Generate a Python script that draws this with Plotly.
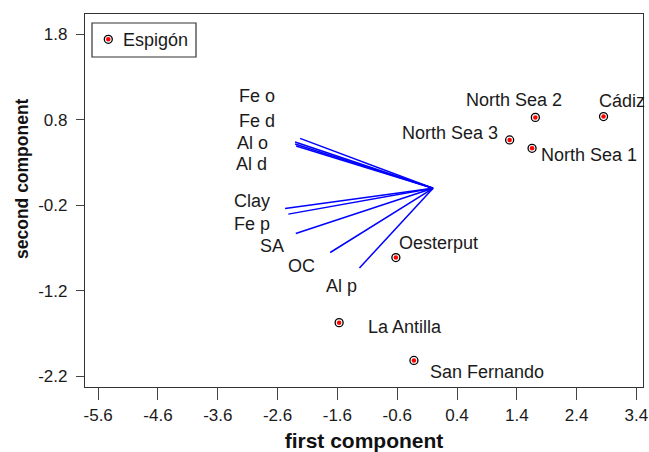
import plotly.graph_objects as go

# ---- data ----
sites = ["Cádiz", "North Sea 2", "North Sea 3", "North Sea 1", "Oesterput", "La Antilla", "San Fernando"]
site_x = [2.85, 1.71, 1.28, 1.655, -0.622, -1.571, -0.32]
site_y = [0.84, 0.83, 0.566, 0.468, -0.81, -1.572, -2.014]

variables = ["Fe o", "Fe d", "Al o", "Al d", "Clay", "Fe p", "SA", "OC", "Al p"]
load_x = [-2.224, -2.307, -2.307, -2.29, -2.475, -2.42, -2.296, -1.72, -1.231]
load_y = [0.585, 0.542, 0.519, 0.495, -0.235, -0.302, -0.528, -0.751, -0.932]

x_ticks = [-5.6, -4.6, -3.6, -2.6, -1.6, -0.6, 0.4, 1.4, 2.4, 3.4]
x_tick_text = ["-5.6", "-4.6", "-3.6", "-2.6", "-1.6", "-0.6", "0.4", "1.4", "2.4", "3.4"]
y_ticks = [1.8, 0.8, -0.2, -1.2, -2.2]
y_tick_text = ["1.8", "0.8", "-0.2", "-1.2", "-2.2"]

legend_name = "Espigón"
x_title = "first component"
y_title = "second component"

# ---- label styling (pixel offsets from the data point) ----
var_anchor = ["right"] * 9
var_dx = [-23, -18, -25, -27, -13, -16, -10, -13, 0]
var_dy = [42, 21, 1, -18, 7, -10, -13, -13, -18]

site_anchor = ["left", "center", "right", "left", "left", "left", "left"]
site_dx = [-7, -21, -10, 7, 1, 27, 14]
site_dy = [16, 17, 7, -7, 15, -4, -12]

FONT = "Liberation Sans, Arial, Helvetica, sans-serif"

W, H = 649, 452
ML, MR, MT, MB = 85, 6, 14, 65
PW, PH = W - ML - MR, H - MT - MB


def px(xp):
    return (xp - ML) / PW


def py(yp):
    return (H - MB - yp) / PH


fig = go.Figure()

# loading vectors
lx, ly = [], []
for vx, vy in zip(load_x, load_y):
    lx += [0, vx, None]
    ly += [0, vy, None]
fig.add_trace(go.Scatter(x=lx, y=ly, mode="lines",
                         line=dict(color="#0000ff", width=1.5),
                         showlegend=False, hoverinfo="skip"))

# site markers: black ring, white gap, red centre
fig.add_trace(go.Scatter(x=site_x, y=site_y, mode="markers",
                         marker=dict(size=8, color="white", line=dict(color="black", width=1.3)),
                         showlegend=False, name=legend_name))
fig.add_trace(go.Scatter(x=site_x, y=site_y, mode="markers",
                         marker=dict(size=4.5, color="#ff0000", line=dict(width=0)),
                         showlegend=False, hoverinfo="skip"))

annotations = []
for name, vx, vy, anc, dx, dy in zip(variables, load_x, load_y, var_anchor, var_dx, var_dy):
    annotations.append(dict(x=vx, y=vy, xref="x", yref="y", text=name, showarrow=False,
                            xanchor=anc, yanchor="middle", xshift=dx, yshift=dy,
                            font=dict(family=FONT, size=18, color="#1a1a1a")))
for name, sx, sy, anc, dx, dy in zip(sites, site_x, site_y, site_anchor, site_dx, site_dy):
    annotations.append(dict(x=sx, y=sy, xref="x", yref="y", text=name, showarrow=False,
                            xanchor=anc, yanchor="middle", xshift=dx, yshift=dy,
                            font=dict(family=FONT, size=18, color="#1a1a1a")))

# y axis title (placed as in the reference, slightly above the axis centre)
annotations.append(dict(x=px(22), y=py(179), xref="paper", yref="paper",
                        text="<b>" + y_title + "</b>", textangle=-90, showarrow=False,
                        xanchor="center", yanchor="middle",
                        font=dict(family=FONT, size=17.5, color="#111111")))

# manual legend
annotations.append(dict(x=px(121), y=py(39.5), xref="paper", yref="paper", text=legend_name,
                        showarrow=False, xanchor="left", yanchor="middle",
                        font=dict(family=FONT, size=18, color="#1a1a1a")))
shapes = [
    dict(type="rect", xref="paper", yref="paper", x0=px(92), x1=px(196), y0=py(57), y1=py(23),
         line=dict(color="#333333", width=1.2), fillcolor="white", layer="above"),
    dict(type="circle", xref="paper", yref="paper", xsizemode="pixel", ysizemode="pixel",
         xanchor=px(108.3), yanchor=py(39.3), x0=-4, x1=4, y0=-4, y1=4,
         line=dict(color="black", width=1.3), fillcolor="white", layer="above"),
    dict(type="circle", xref="paper", yref="paper", xsizemode="pixel", ysizemode="pixel",
         xanchor=px(108.3), yanchor=py(39.3), x0=-2.3, x1=2.3, y0=-2.3, y1=2.3,
         line=dict(width=0), fillcolor="#ff0000", layer="above"),
]

fig.update_layout(
    width=W, height=H,
    margin=dict(l=ML, r=MR, t=MT, b=MB),
    paper_bgcolor="white", plot_bgcolor="white",
    font=dict(family=FONT, size=17, color="#1a1a1a"),
    showlegend=False,
    annotations=annotations,
    shapes=shapes,
    xaxis=dict(range=[-5.82, 3.51], tickvals=x_ticks, ticktext=x_tick_text,
               ticks="outside", ticklen=12, tickwidth=1.2, tickcolor="#444444",
               showline=True, mirror=True, linecolor="#333333", linewidth=1.2,
               showgrid=False, zeroline=False, tickfont=dict(size=17),
               title=dict(text="<b>" + x_title + "</b>", font=dict(size=21, color="#111111"), standoff=10),
               automargin=False),
    yaxis=dict(range=[-2.325, 2.04], tickvals=y_ticks, ticktext=y_tick_text,
               ticks="outside", ticklen=8, tickwidth=1.2, tickcolor="#444444",
               ticklabelstandoff=5,
               showline=True, mirror=True, linecolor="#333333", linewidth=1.2,
               showgrid=False, zeroline=False, tickfont=dict(size=17),
               automargin=False),
)

fig.write_html("out.html",
               config={"displayModeBar": False},
               post_script="document.body.style.margin='0';document.documentElement.style.overflow='hidden';")
